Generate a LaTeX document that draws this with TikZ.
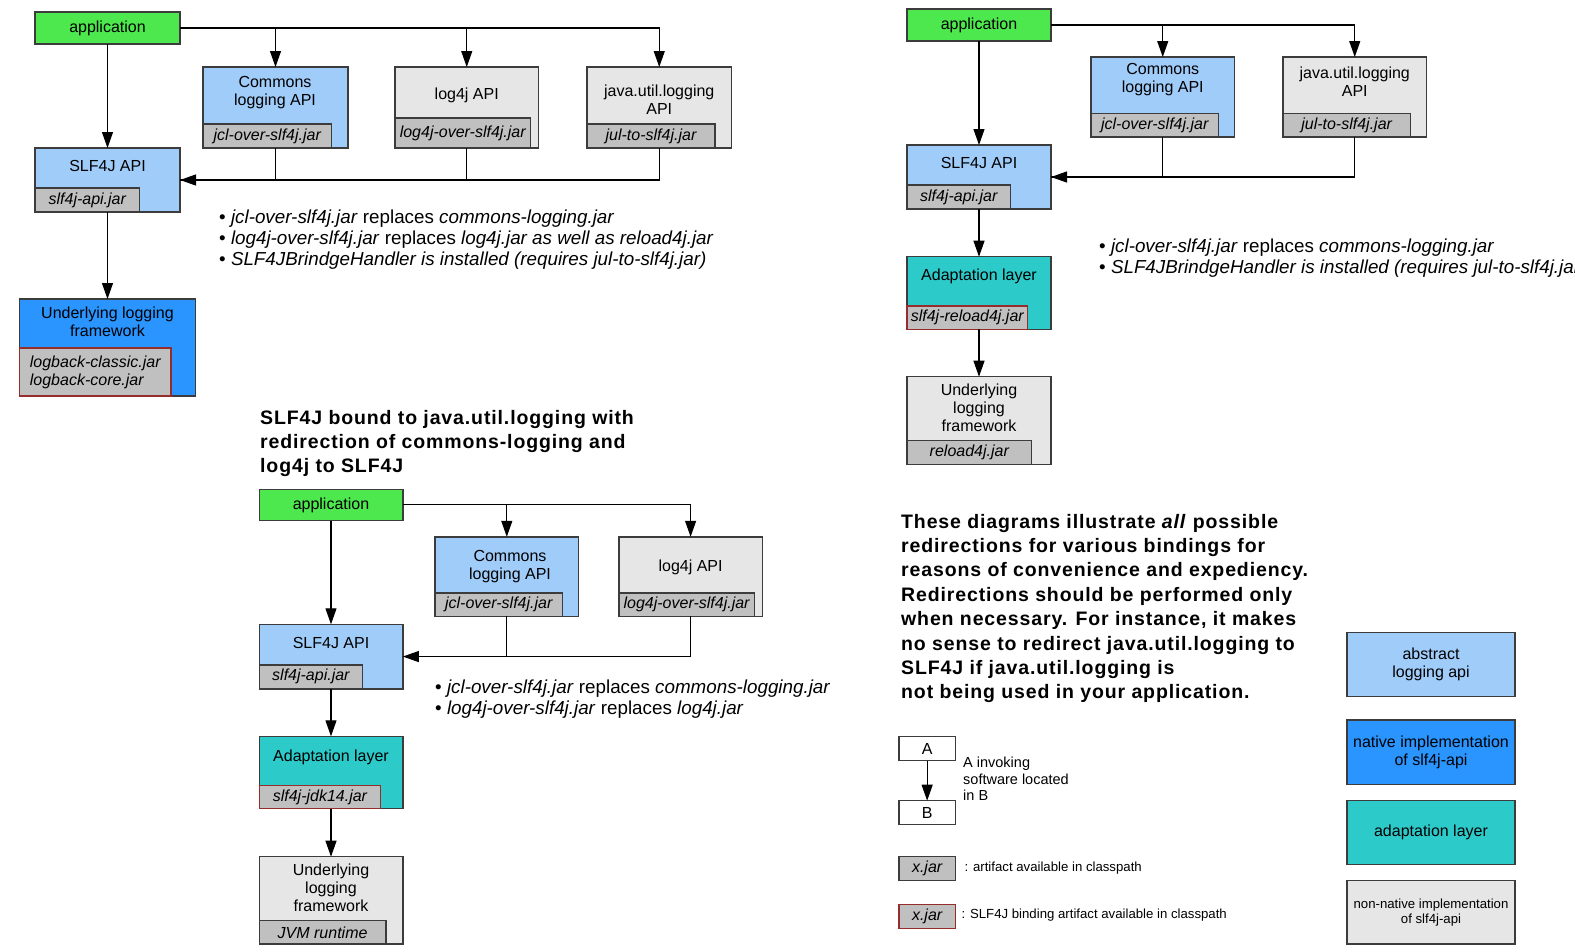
\documentclass[tikz,border=0pt]{standalone}
\usepackage{fontspec}
\setmainfont{Liberation Sans}
\newfontfamily\ttlfont{Liberation Sans}[LetterSpace=4.5]
\usetikzlibrary{arrows.meta}
\definecolor{appgreen}{RGB}{77,232,77}
\definecolor{ltblue}{RGB}{160,204,250}
\definecolor{natblue}{RGB}{42,148,255}
\definecolor{tealc}{RGB}{45,202,202}
\definecolor{ltgray}{RGB}{230,230,230}
\definecolor{jargray}{RGB}{192,192,192}
\definecolor{bord}{RGB}{60,60,60}
\definecolor{redb}{RGB}{150,45,45}
\newcommand{\bxf}{\fontsize{16}{18}\selectfont}
\newcommand{\jrf}{\fontsize{16}{18}\selectfont\itshape}
\newcommand{\blf}{\fontsize{18.8}{21}\selectfont}
\newcommand{\ttf}{\ttlfont\bfseries\fontsize{19.5}{24.2}\selectfont}
\newcommand{\smf}{\fontsize{14.5}{16.5}\selectfont}
\newcommand{\tnf}{\fontsize{13.2}{15}\selectfont}
\begin{document}
\begin{tikzpicture}[x=1pt,y=-1pt,
  box/.style={draw=bord,line width=1.4pt,inner sep=0pt,outer sep=0pt,anchor=north west,font=\bxf,align=center},
  jar/.style={draw=bord,fill=jargray,line width=1.4pt,inner sep=0pt,outer sep=0pt,anchor=south west,font=\jrf},
  redjar/.style={jar,draw=redb},
  lbl/.style={inner sep=0pt,font=\bxf,align=center},
  bul/.style={inner sep=0pt,anchor=base west,font=\blf},
  ttl/.style={inner sep=0pt,anchor=base west,font=\ttf},
  arr/.style={draw=black,line width=1.1pt,-{Triangle[length=16pt,width=11pt]}},
  ln/.style={draw=black,line width=1.1pt},
]
\useasboundingbox (0,0) rectangle (1575,951);
\clip (0,0) rectangle (1575,951);

% ---------- top-left diagram ----------
\node[box,fill=appgreen,minimum width=145,minimum height=32] (a1) at (35,12) {application};
\node[box,fill=ltblue,minimum width=145,minimum height=81] (c1) at (203,67) {};
\node[jar,minimum width=128.5,minimum height=24] (c1j) at (c1.south west) {jcl-over-slf4j.jar};
\node[lbl] (c1t) at (275,92.5) {Commons\\logging API};
\node[box,fill=ltgray,minimum width=143.5,minimum height=81] (l1) at (395,67) {};
\node[jar,minimum width=135.5,minimum height=30] (l1j) at (l1.south west) {log4j-over-slf4j.jar};
\node[lbl] (l1t) at (466.75,95.5) {log4j API};
\node[box,fill=ltgray,minimum width=144.5,minimum height=81] (j1) at (587,67) {};
\node[jar,minimum width=128,minimum height=24] (j1j) at (j1.south west) {jul-to-slf4j.jar};
\node[lbl] (j1t) at (659.25,100) {java.util.logging\\API};
\node[box,fill=ltblue,minimum width=145,minimum height=64] (s1) at (35,148) {};
\node[jar,minimum width=104.6,minimum height=24] (s1j) at (s1.south west) {slf4j-api.jar};
\node[lbl] (s1t) at (107.5,165.5) {SLF4J API};
\node[box,fill=natblue,minimum width=176,minimum height=97] (u1) at (19.5,299) {};
\node[redjar,minimum width=151.5,minimum height=48,align=left] (u1j) at (u1.south west) {logback-classic.jar\\logback-core.jar};
\node[lbl] (u1t) at (107.5,322) {Underlying logging\\framework};
\draw[arr] (a1.south) -- (s1.north);
\draw[arr] (a1.east) -| (c1.north);
\draw[arr] (a1.east) -| (l1.north);
\draw[arr] (a1.east) -| (j1.north);
\draw[ln] (c1.south) |- (s1.east);
\draw[ln] (l1.south) |- (s1.east);
\draw[arr] (j1.south) |- (s1.east);
\draw[arr] (s1.south) -- (u1.north);
\node[bul] (b11) at (219,223) {• \textit{jcl-over-slf4j.jar} replaces \textit{commons-logging.jar}};
\node[bul] (b12) at (219,244) {• \textit{log4j-over-slf4j.jar} replaces \textit{log4j.jar as well as reload4j.jar}};
\node[bul] (b13) at (219,265) {• \textit{SLF4JBrindgeHandler is installed (requires jul-to-slf4j.jar)}};

% ---------- top-right diagram ----------
\node[box,fill=appgreen,minimum width=144,minimum height=32] (a2) at (907,9) {application};
\node[box,fill=ltblue,minimum width=143.5,minimum height=80] (c2) at (1091,57) {};
\node[jar,minimum width=127.5,minimum height=23.7] (c2j) at (c2.south west) {jcl-over-slf4j.jar};
\node[lbl] (c2t) at (1162.75,80) {Commons\\logging API};
\node[box,fill=ltgray,minimum width=143.5,minimum height=80] (j2) at (1283,57) {};
\node[jar,minimum width=127.3,minimum height=23.7] (j2j) at (j2.south west) {jul-to-slf4j.jar};
\node[lbl] (j2t) at (1354.75,82) {java.util.logging\\API};
\node[box,fill=ltblue,minimum width=144,minimum height=64] (s2) at (907,145) {};
\node[jar,minimum width=103.5,minimum height=24] (s2j) at (s2.south west) {slf4j-api.jar};
\node[lbl] (s2t) at (979,163.3) {SLF4J API};
\node[box,fill=tealc,minimum width=144,minimum height=72.6] (ad2) at (907,256.7) {};
\node[redjar,minimum width=120.6,minimum height=23.3] (ad2j) at (ad2.south west) {slf4j-reload4j.jar};
\node[lbl] (ad2t) at (979,276.7) {Adaptation layer};
\node[box,fill=ltgray,minimum width=144,minimum height=88] (u2) at (907,376.7) {};
\node[jar,minimum width=124.6,minimum height=24] (u2j) at (u2.south west) {reload4j.jar};
\node[lbl] (u2t) at (979,408) {Underlying\\logging\\framework};
\draw[arr] (a2.south) -- (s2.north);
\draw[arr] (a2.east) -| (c2.north);
\draw[arr] (a2.east) -| (j2.north);
\draw[ln] (c2.south) |- (s2.east);
\draw[arr] (j2.south) |- (s2.east);
\draw[arr] (s2.south) -- (ad2.north);
\draw[arr] (ad2.south) -- (u2.north);
\node[bul] (b21) at (1099,252) {• \textit{jcl-over-slf4j.jar} replaces \textit{commons-logging.jar}};
\node[bul] (b22) at (1099,273) {• \textit{SLF4JBrindgeHandler is installed (requires jul-to-slf4j.jar)}};

% ---------- bottom-left diagram ----------
\node[ttl] (t1) at (260,424) {SLF4J bound to java.util.logging with};
\node[ttl] (t2) at (260,448) {redirection of commons-logging and};
\node[ttl] (t3) at (260,472) {log4j to SLF4J};
\node[box,fill=appgreen,minimum width=143.6,minimum height=31.2] (a3) at (259.2,489.3) {application};
\node[box,fill=ltblue,minimum width=143.6,minimum height=79.5] (c3) at (435,536.8) {};
\node[jar,minimum width=127.5,minimum height=23.5] (c3j) at (c3.south west) {jcl-over-slf4j.jar};
\node[lbl] (c3t) at (510,567) {Commons\\logging API};
\node[box,fill=ltgray,minimum width=143.6,minimum height=79.5] (l3) at (618.8,536.8) {};
\node[jar,minimum width=135.6,minimum height=23.5] (l3j) at (l3.south west) {log4j-over-slf4j.jar};
\node[lbl] (l3t) at (690.6,567.3) {log4j API};
\node[box,fill=ltblue,minimum width=143.6,minimum height=64.5] (s3) at (259.2,624.3) {};
\node[jar,minimum width=103.4,minimum height=24] (s3j) at (s3.south west) {slf4j-api.jar};
\node[lbl] (s3t) at (331,643.3) {SLF4J API};
\node[box,fill=tealc,minimum width=143.6,minimum height=72.4] (ad3) at (259.2,736.3) {};
\node[redjar,minimum width=121.5,minimum height=23.5] (ad3j) at (ad3.south west) {slf4j-jdk14.jar};
\node[lbl] (ad3t) at (331,757.3) {Adaptation layer};
\node[box,fill=ltgray,minimum width=143.6,minimum height=87.3] (u3) at (259.2,856.7) {};
\node[jar,minimum width=126.8,minimum height=23.3] (u3j) at (u3.south west) {JVM runtime};
\node[lbl] (u3t) at (331,887.3) {Underlying\\logging\\framework};
\draw[arr] (a3.south) -- (s3.north);
\draw[arr] (a3.east) -| (c3.north);
\draw[arr] (a3.east) -| (l3.north);
\draw[ln] (c3.south) |- (s3.east);
\draw[arr] (l3.south) |- (s3.east);
\draw[arr] (s3.south) -- (ad3.north);
\draw[arr] (ad3.south) -- (u3.north);
\node[bul] (b31) at (435,693) {• \textit{jcl-over-slf4j.jar} replaces \textit{commons-logging.jar}};
\node[bul] (b32) at (435,714) {• \textit{log4j-over-slf4j.jar} replaces \textit{log4j.jar}};

% ---------- explanatory paragraph ----------
\node[ttl] (p1) at (901,528) {These diagrams illustrate \textit{all} possible};
\node[ttl] (p2) at (901,552.4) {redirections for various bindings for};
\node[ttl] (p3) at (901,576.8) {reasons of convenience and expediency.};
\node[ttl] (p4) at (901,601.2) {Redirections should be performed only};
\node[ttl] (p5) at (901,625.6) {when necessary. For instance, it makes};
\node[ttl] (p6) at (901,650) {no sense to redirect java.util.logging to};
\node[ttl] (p7) at (901,674.4) {SLF4J if java.util.logging is};
\node[ttl] (p8) at (901,698.8) {not being used in your application.};

% ---------- legend ----------
\node[box,fill=white,minimum width=56.3,minimum height=24] (la) at (899,736.7) {A};
\node[box,fill=white,minimum width=56.3,minimum height=24] (lb) at (899,800.7) {B};
\draw[arr] (la.south) -- (lb.north);
\node[inner sep=0pt,anchor=west,align=left,font=\smf] (lt) at (963,779) {A invoking\\software located\\in B};
\node[jar,anchor=north west,minimum width=56.3,minimum height=23.6] (lj1) at (899,856.7) {x.jar};
\node[inner sep=0pt,anchor=west,font=\tnf] (lj1t) at (964.3,867.7) {: artifact available in classpath};
\node[redjar,anchor=north west,minimum width=56.3,minimum height=24.4] (lj2) at (899,904.3) {x.jar};
\node[inner sep=0pt,anchor=west,font=\tnf] (lj2t) at (961.3,915.3) {: SLF4J binding artifact available in classpath};

\node[box,fill=ltblue,minimum width=168,minimum height=64] (r1) at (1347,632.5) {abstract\\logging api};
\node[box,fill=natblue,minimum width=168,minimum height=64.3] (r2) at (1347,720) {native implementation\\of slf4j-api};
\node[box,fill=tealc,minimum width=168,minimum height=63.6] (r3) at (1347,800.7) {adaptation layer};
\node[box,fill=ltgray,minimum width=168,minimum height=63.3,font=\tnf] (r4) at (1347,880.7) {non-native implementation\\of slf4j-api};
\end{tikzpicture}
\end{document}
